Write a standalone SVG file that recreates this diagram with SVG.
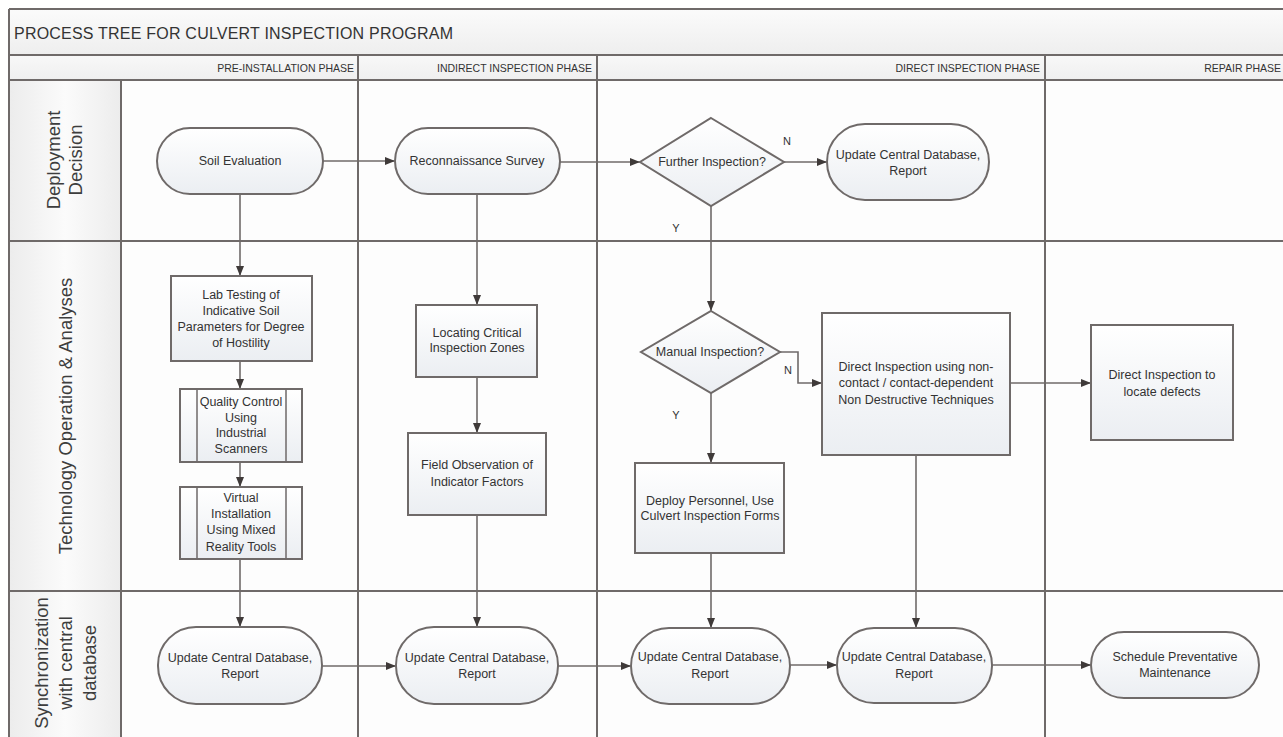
<svg xmlns="http://www.w3.org/2000/svg" width="1283" height="737" viewBox="0 0 1283 737">
<defs>
<style>
.ln{stroke:#6f6a69;stroke-width:2;fill:none}
.node{stroke:#6f6a69;stroke-width:2;fill:url(#nodeFill)}
.sub{stroke:#6f6a69;stroke-width:1.5;fill:none}
.t{font-family:"Liberation Sans",Arial,sans-serif;font-size:12.5px;fill:#333;text-anchor:middle;dominant-baseline:central}
.hdr{font-family:"Liberation Sans",Arial,sans-serif;font-size:10.5px;fill:#333;text-anchor:end;dominant-baseline:central}
.lane{font-family:"Liberation Sans",Arial,sans-serif;font-size:18.5px;fill:#3d3d3d;text-anchor:middle;dominant-baseline:central}
.yn{font-family:"Liberation Sans",Arial,sans-serif;font-size:11px;fill:#333;text-anchor:middle;dominant-baseline:central}
.conn{stroke:#6f6a69;stroke-width:1.6;fill:none;marker-end:url(#arr)}
</style>
<linearGradient id="nodeFill" x1="0" y1="0" x2="0" y2="1">
<stop offset="0" stop-color="#ffffff"/>
<stop offset="1" stop-color="#ebeef2"/>
</linearGradient>
<linearGradient id="titleFill" x1="0" y1="0" x2="0" y2="1">
<stop offset="0" stop-color="#fbfbfb"/>
<stop offset="1" stop-color="#eeeeee"/>
</linearGradient>
<linearGradient id="hdrFill" x1="0" y1="0" x2="0" y2="1">
<stop offset="0" stop-color="#f8f8f8"/>
<stop offset="1" stop-color="#efefef"/>
</linearGradient>
<linearGradient id="laneFill" x1="0" y1="0" x2="1" y2="0">
<stop offset="0" stop-color="#ececec"/>
<stop offset="0.5" stop-color="#fbfbfb"/>
<stop offset="1" stop-color="#ececec"/>
</linearGradient>
<marker id="arr" markerUnits="userSpaceOnUse" markerWidth="10" markerHeight="10" viewBox="0 0 10 10" refX="10" refY="5" orient="auto">
<path d="M0,1 L10,5 L0,9 Z" fill="#3f3a39"/>
</marker>
</defs>

<rect x="0" y="0" width="1283" height="737" fill="#ffffff"/>

<g id="frame">
<rect x="9" y="9" width="1280" height="46" fill="url(#titleFill)"/>
<rect x="9" y="55" width="1280" height="25" fill="url(#hdrFill)"/>
<rect x="9" y="80" width="112" height="660" fill="url(#laneFill)"/>
<rect x="121" y="80" width="1170" height="660" fill="#fdfdfd"/>
<path class="ln" d="M9,9 H1290 M9,9 V740 M9,55 H1290 M9,80 H1290 M9,241 H1290 M9,591 H1290 M121,80 V740 M358,55 V740 M597,55 V740 M1045,55 V740"/>
<text x="14" y="33" font-family="'Liberation Sans',Arial,sans-serif" font-size="16" fill="#333" dominant-baseline="central" textLength="439">PROCESS TREE FOR CULVERT INSPECTION PROGRAM</text>
<text class="hdr" x="354" y="68">PRE-INSTALLATION PHASE</text>
<text class="hdr" x="592" y="68">INDIRECT INSPECTION PHASE</text>
<text class="hdr" x="1040" y="68">DIRECT INSPECTION PHASE</text>
<text class="hdr" x="1281" y="68">REPAIR PHASE</text>
</g>

<g id="lane-labels">
<text class="lane" transform="translate(64,160) rotate(-90)"><tspan x="0" y="-11">Deployment</tspan><tspan x="0" y="11">Decision</tspan></text>
<text class="lane" transform="translate(65,416) rotate(-90)">Technology Operation &amp; Analyses</text>
<text class="lane" transform="translate(65,663) rotate(-90)"><tspan x="0" y="-24">Synchronization</tspan><tspan x="0" y="0">with central</tspan><tspan x="0" y="24">database</tspan></text>
</g>

<g id="connectors">
<path class="conn" d="M323,161 H395"/>
<path class="conn" d="M240,194 V276"/>
<path class="conn" d="M240,361 V389"/>
<path class="conn" d="M240,462 V487"/>
<path class="conn" d="M240,559 V627"/>
<path class="conn" d="M560,162 H640"/>
<path class="conn" d="M477,194 V305"/>
<path class="conn" d="M477,377 V433"/>
<path class="conn" d="M477,515 V627"/>
<path class="conn" d="M784,162 H827"/>
<path class="conn" d="M711,206 V311"/>
<path class="conn" d="M711,393 V463"/>
<path class="conn" d="M780,352 H798 V383 H822"/>
<path class="conn" d="M1010,383 H1091"/>
<path class="conn" d="M711,553 V628"/>
<path class="conn" d="M916,455 V628"/>
<path class="conn" d="M322,666 H396"/>
<path class="conn" d="M558,666 H631"/>
<path class="conn" d="M790,665 H837"/>
<path class="conn" d="M992,665 H1091"/>
<text class="yn" x="787" y="141">N</text>
<text class="yn" x="676" y="228">Y</text>
<text class="yn" x="788" y="370">N</text>
<text class="yn" x="676" y="415">Y</text>
</g>

<g id="soil-evaluation">
<rect class="node" x="157" y="128" width="166" height="66" rx="33"/>
<text class="t" x="240" y="161">Soil Evaluation</text>
</g>
<g id="reconnaissance-survey">
<rect class="node" x="395" y="128" width="165" height="66" rx="33"/>
<text class="t" x="477" y="161">Reconnaissance Survey</text>
</g>
<g id="further-inspection">
<polygon class="node" points="711,118 784,162 711,206 640,162"/>
<text class="t" x="712" y="162">Further Inspection?</text>
</g>
<g id="update-top">
<rect class="node" x="827" y="124" width="162" height="76" rx="38"/>
<text class="t" x="908" y="155">Update Central Database,</text>
<text class="t" x="908" y="171">Report</text>
</g>
<g id="lab-testing">
<rect class="node" x="171" y="276" width="141" height="85"/>
<text class="t" x="241" y="295">Lab Testing of</text>
<text class="t" x="241" y="311">Indicative Soil</text>
<text class="t" x="241" y="327">Parameters for Degree</text>
<text class="t" x="241" y="343">of Hostility</text>
</g>
<g id="quality-control">
<rect class="node" x="180" y="389" width="122" height="73"/>
<path class="sub" d="M197,389 V462 M286,389 V462"/>
<text class="t" x="241" y="402">Quality Control</text>
<text class="t" x="241" y="418">Using</text>
<text class="t" x="241" y="433">Industrial</text>
<text class="t" x="241" y="449">Scanners</text>
</g>
<g id="virtual-installation">
<rect class="node" x="180" y="487" width="122" height="72"/>
<path class="sub" d="M197,487 V559 M286,487 V559"/>
<text class="t" x="241" y="498">Virtual</text>
<text class="t" x="241" y="514">Installation</text>
<text class="t" x="241" y="530">Using Mixed</text>
<text class="t" x="241" y="547">Reality Tools</text>
</g>
<g id="locating-zones">
<rect class="node" x="416" y="305" width="121" height="72"/>
<text class="t" x="477" y="333">Locating Critical</text>
<text class="t" x="477" y="348">Inspection Zones</text>
</g>
<g id="field-observation">
<rect class="node" x="408" y="433" width="138" height="82"/>
<text class="t" x="477" y="465">Field Observation of</text>
<text class="t" x="477" y="482">Indicator Factors</text>
</g>
<g id="manual-inspection">
<polygon class="node" points="711,311 780,352 711,393 641,352"/>
<text class="t" x="710" y="352">Manual Inspection?</text>
</g>
<g id="deploy-personnel">
<rect class="node" x="635" y="463" width="149" height="90"/>
<text class="t" x="710" y="501">Deploy Personnel, Use</text>
<text class="t" x="710" y="516">Culvert Inspection Forms</text>
</g>
<g id="direct-inspection-ndt">
<rect class="node" x="822" y="313" width="188" height="142"/>
<text class="t" x="916" y="367">Direct Inspection using non-</text>
<text class="t" x="916" y="383">contact / contact-dependent</text>
<text class="t" x="916" y="400">Non Destructive Techniques</text>
</g>
<g id="direct-inspection-defects">
<rect class="node" x="1091" y="325" width="142" height="115"/>
<text class="t" x="1162" y="375">Direct Inspection to</text>
<text class="t" x="1162" y="392">locate defects</text>
</g>
<g id="update-1">
<rect class="node" x="158" y="627" width="164" height="77" rx="38"/>
<text class="t" x="240" y="658">Update Central Database,</text>
<text class="t" x="240" y="674">Report</text>
</g>
<g id="update-2">
<rect class="node" x="396" y="627" width="162" height="77" rx="38"/>
<text class="t" x="477" y="658">Update Central Database,</text>
<text class="t" x="477" y="674">Report</text>
</g>
<g id="update-3">
<rect class="node" x="631" y="628" width="159" height="76" rx="38"/>
<text class="t" x="710" y="657">Update Central Database,</text>
<text class="t" x="710" y="674">Report</text>
</g>
<g id="update-4">
<rect class="node" x="837" y="628" width="155" height="75" rx="37"/>
<text class="t" x="914" y="657">Update Central Database,</text>
<text class="t" x="914" y="674">Report</text>
</g>
<g id="schedule-maintenance">
<rect class="node" x="1091" y="632" width="168" height="66" rx="33"/>
<text class="t" x="1175" y="657">Schedule Preventative</text>
<text class="t" x="1175" y="673">Maintenance</text>
</g>
</svg>
